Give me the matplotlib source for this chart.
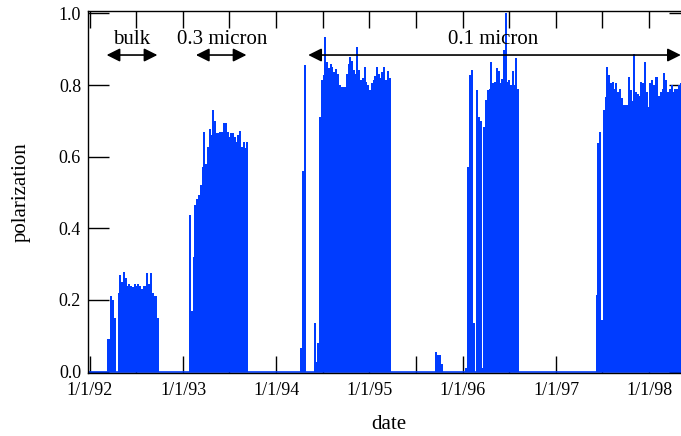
import matplotlib
matplotlib.use("Agg")
import matplotlib.pyplot as plt
import matplotlib.dates as mdates
import pandas as pd

plt.rcParams['font.family'] = ['Liberation Serif', 'DejaVu Serif']

BLUE = '#003cff'

# weekly polarization readings, one list per run (start date + values)
bulk_start = '1992-03-12'
bulk_vals = [0.09, 0.09, 0.21, 0.20, 0.15, 0.0, 0.22, 0.27, 0.25, 0.278,
             0.26, 0.24, 0.245, 0.24, 0.236, 0.245, 0.24, 0.245, 0.24, 0.23,
             0.24, 0.24, 0.275, 0.245, 0.275, 0.22, 0.21, 0.21, 0.15]

m03_start = '1993-01-28'
m03_vals = [0.437, 0.17, 0.32, 0.465, 0.483, 0.494, 0.52, 0.57, 0.67, 0.58,
            0.628, 0.677, 0.66, 0.73, 0.70, 0.666, 0.666, 0.67, 0.668, 0.695,
            0.693, 0.67, 0.656, 0.665, 0.666, 0.656, 0.642, 0.66, 0.673, 0.628,
            0.642, 0.624, 0.64]

spike94_start = '1994-04-08'
spike94_vals = [0.065, 0.56, 0.856]

m01a_start = '1994-05-31'
m01a_vals = [0.135, 0.027, 0.08, 0.71, 0.814, 0.828, 0.935, 0.865, 0.847, 0.86,
             0.85, 0.837, 0.845, 0.83, 0.80, 0.795, 0.795, 0.795, 0.83, 0.86,
             0.879, 0.868, 0.843, 0.83, 0.907, 0.843, 0.814, 0.82, 0.85, 0.81,
             0.80, 0.786, 0.805, 0.814, 0.825, 0.85, 0.83, 0.82, 0.837, 0.85,
             0.814, 0.84, 0.82]

bump95_start = '1995-09-20'
bump95_vals = [0.055, 0.046, 0.046, 0.02]

m01b_start = '1996-01-16'
m01b_vals = [0.01, 0.572, 0.828, 0.842, 0.135, 0.0, 0.787, 0.712, 0.70, 0.01,
             0.684, 0.758, 0.786, 0.79, 0.865, 0.805, 0.81, 0.847, 0.84, 0.805,
             0.817, 0.897, 1.0, 0.81, 0.815, 0.80, 0.84, 0.80, 0.875, 0.79]

m01c_start = '1997-06-09'
m01c_vals = [0.214, 0.637, 0.67, 0.144, 0.73, 0.768, 0.851, 0.828, 0.805, 0.81,
             0.79, 0.805, 0.78, 0.79, 0.763, 0.744, 0.744, 0.744, 0.823, 0.785,
             0.755, 0.888, 0.78, 0.775, 0.77, 0.81, 0.805, 0.865, 0.78, 0.74,
             0.805, 0.815, 0.80, 0.823, 0.823, 0.77, 0.78, 0.79, 0.833, 0.815,
             0.78, 0.79, 0.80, 0.78, 0.79, 0.79, 0.80, 0.805]

runs = [(bulk_start, bulk_vals), (m03_start, m03_vals),
        (spike94_start, spike94_vals), (m01a_start, m01a_vals),
        (bump95_start, bump95_vals), (m01b_start, m01b_vals),
        (m01c_start, m01c_vals)]

fig = plt.figure(figsize=(6.81, 4.36), dpi=100)
ax = fig.add_axes([0.1292, 0.1456, 0.884, 0.8292])

for start, vals in runs:
    d = pd.date_range(start, periods=len(vals), freq='7D')
    ax.bar(d, vals, width=7.8, color=BLUE, linewidth=0, zorder=2)

ax.axhline(0, color=BLUE, lw=1.2, zorder=2)

ax.set_xlim(pd.Timestamp('1991-12-25'), pd.Timestamp('1998-06-10'))
ax.set_ylim(-0.0028, 1.007)

ax.xaxis.set_major_locator(mdates.YearLocator())
ax.xaxis.set_minor_locator(mdates.MonthLocator(bymonth=7))
ax.xaxis.set_major_formatter(
    plt.FuncFormatter(lambda v, p: '{d.month}/{d.day}/{y}'.format(
        d=mdates.num2date(v), y=mdates.num2date(v).strftime('%y'))))
ax.set_yticks([0.0, 0.2, 0.4, 0.6, 0.8, 1.0])
ax.yaxis.set_major_formatter(plt.FuncFormatter(lambda v, p: f'{v:.1f}'))

ax.set_axisbelow(True)
ax.tick_params(axis='x', which='both', direction='in', top=True, bottom=True,
               length=12, width=1, labelsize=13, pad=7)
ax.tick_params(axis='y', which='major', direction='in', left=True, right=True,
               length=15, width=1, labelsize=13, pad=5)
for s in ax.spines.values():
    s.set_linewidth(1)

ax.set_xlabel('date', fontsize=15, labelpad=11)
ax.set_ylabel('polarization', fontsize=15, labelpad=20)

# sample-size annotations
arrows = [('bulk', '1992-06-13', '1992-03-07', '1992-09-22'),
          ('0.3 micron', '1993-06-04', '1993-02-20', '1993-09-06'),
          ('0.1 micron', '1996-04-28', '1994-05-06', '1998-05-05')]
for label, mid, a, b in arrows:
    ax.text(pd.Timestamp(mid), 0.915, label, ha='center', va='baseline', fontsize=15)
    ax.annotate('', xy=(pd.Timestamp(b), 0.884), xytext=(pd.Timestamp(a), 0.884),
                arrowprops=dict(arrowstyle='<|-|>', color='black', lw=1.2,
                                mutation_scale=20, shrinkA=0, shrinkB=0))

fig.savefig('out.png', dpi=100)
